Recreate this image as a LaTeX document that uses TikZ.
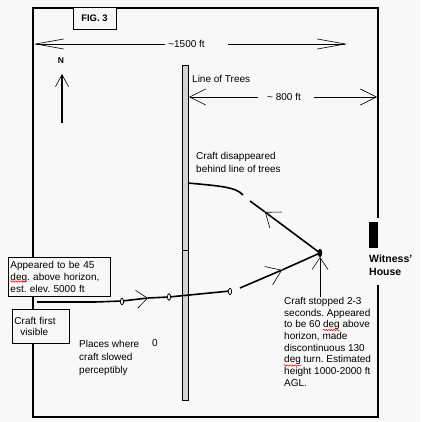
\documentclass[tikz,border=0pt]{standalone}
\usepackage{fontspec}
\setmainfont{Liberation Sans}
\usetikzlibrary{arrows.meta, decorations.pathmorphing}

\definecolor{paper}{HTML}{F8F8F8}
\definecolor{treegray}{HTML}{D4D4D4}

\tikzset{
  every node/.style={font=\fontsize{10}{11.7}\selectfont, inner sep=0pt},
  frame/.style={line width=2pt},
  track/.style={line width=1.6pt},
  dimline/.style={line width=0.7pt},
  textbox/.style={draw, line width=0.9pt, fill=paper, align=left, anchor=north west},
  note/.style={align=left, anchor=north west},
  spell/.style={red, line width=0.5pt, decorate, decoration={snake, amplitude=0.7pt, segment length=2.6pt}},
}

\begin{document}
\frenchspacing
\begin{tikzpicture}[x=1pt, y=-1pt]

  % Paper
  \fill[paper] (0,0) rectangle (420,422);
  \useasboundingbox (0,0) rectangle (420,422);

  % Frame of the site, open at the house
  \draw[frame] (378,218) -- (378,8) -- (33,8) -- (33,417) -- (378,417) -- (378,285);
  \fill (369,222) rectangle (378,248);
  \node[note, font=\fontsize{10.5}{12.5}\selectfont\bfseries] (house) at (369,255) {Witness'\\House};

  % Figure label
  \node[draw, line width=0.9pt, fill=paper, minimum width=43pt, minimum height=22pt,
        font=\fontsize{9.5}{10}\selectfont\bfseries] (fig) at (94.5,18) {FIG. 3};

  % North arrow
  \node[font=\fontsize{8.5}{10}\selectfont\bfseries] (north) at (61,61) {N};
  \coordinate (nfoot) at (62,123);
  \coordinate (ntip) at (62,74);
  \draw[line width=1.3pt, -{Straight Barb[length=12pt,width=13pt,line width=0.6pt]}] (nfoot) -- (ntip);

  % Line of trees
  \draw[line width=0.8pt, fill=treegray] (182,65) rectangle (188,400);
  \draw[line width=0.8pt] (182,250) -- (188,250);
  \node[note] (trees) at (192,75) {Line of Trees};

  % Dimension ~1500 ft
  \node (wide) at (186.5,44) {\textasciitilde1500 ft};
  \coordinate (wl) at (165,44);
  \coordinate (wr) at (228,44);
  \draw[dimline, -{Straight Barb[length=28pt,width=10pt,line width=0.6pt]}] (wl) -- (34,44);
  \draw[dimline, -{Straight Barb[length=28pt,width=10pt,line width=0.6pt]}] (wr) -- (347,44);

  % Dimension ~ 800 ft
  \node (near) at (284,97) {\textasciitilde{} 800 ft};
  \coordinate (nl) at (258,97);
  \coordinate (nr) at (314,97);
  \draw[dimline, -{Straight Barb[length=16pt,width=16pt,line width=0.6pt]}] (nl) -- (189,97);
  \draw[dimline, -{Straight Barb[length=16pt,width=16pt,line width=0.6pt]}] (nr) -- (377,97);

  % Craft track, inbound
  \coordinate (first) at (37,302);
  \coordinate (stop) at (320,253);
  \draw[track] (first) -- (95,302) -- (122,301);
  \draw[track, -{Straight Barb[length=11pt,width=18pt,line width=0.6pt]}] (122,301) -- (148,298);
  \draw[track] (148,298) -- (169,297) -- (230,291);
  \draw[track, -{Straight Barb[length=14pt,width=20pt,line width=0.6pt]}] (240,288) -- (282,270);
  \draw[track] (282,270) -- (stop);

  % Places where it slowed
  \foreach \px/\py in {122/301.5, 169/297, 230/291.5}
    \draw[line width=0.8pt, fill=paper] (\px,\py) ellipse (1.6 and 3.2);

  % Craft track, outbound to the trees
  \draw[track, -{Straight Barb[length=13pt,width=20pt,line width=0.6pt]}] (stop) -- (265,212);
  \draw[track] (265,212) -- (250,201);
  \draw[track] (243,195) .. controls (236,187) and (220,186) .. (188,183);

  % Stopping point
  \fill (stop) ellipse (2.2 and 4.2);
  \coordinate (nfoot2) at (320,297);
  \draw[line width=0.6pt, -{Straight Barb[length=12pt,width=16pt,line width=0.6pt]}] (nfoot2) -- (320,257);

  % Notes
  \node[textbox, inner xsep=2pt, inner ysep=3pt, text width=98pt, minimum height=39pt] (sight) at (8,257)
    {Appeared to be 45\\deg. above horizon,\\est. elev. 5000 ft};
  \node[textbox, inner xsep=2pt, inner ysep=3.5pt, text width=53pt, minimum height=34pt] (visible) at (12,309)
    {Craft first\\\mbox{}\hspace{6pt}visible};
  \node[note, font=\fontsize{10}{13}\selectfont] (slowed) at (79,340) {Places where\\craft slowed\\perceptibly};
  \node[note] (zero) at (152,339) {0};
  \node[note, font=\fontsize{10}{13}\selectfont] (gone) at (196,152) {Craft disappeared\\behind line of trees};
  \node[note] (stopnote) at (284,297)
    {Craft stopped 2-3\\seconds. Appeared\\to be 60 deg above\\horizon, made\\discontinuous 130\\deg turn. Estimated\\height 1000-2000 ft\\AGL.};

  % Spell check marks
  \draw[spell] (10,281.5) -- (27,281.5);
  \draw[spell] (323,330) -- (340,330);
  \draw[spell] (284,365.5) -- (301,365.5);

\end{tikzpicture}
\end{document}
